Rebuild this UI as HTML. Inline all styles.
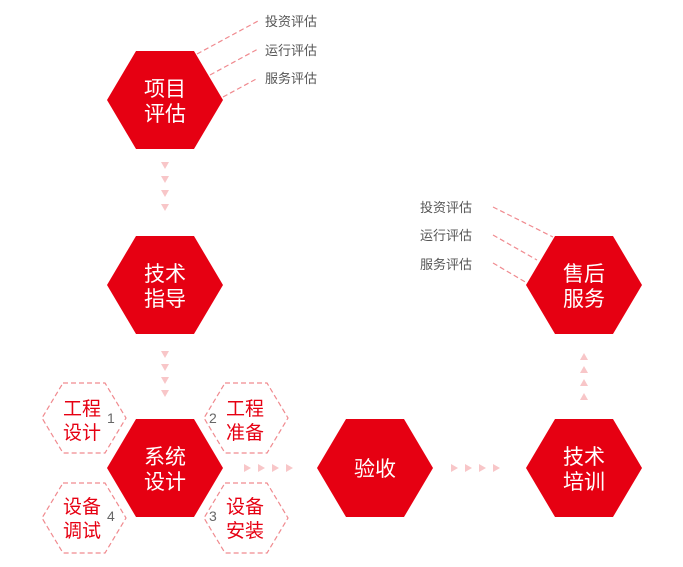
<!DOCTYPE html>
<html><head><meta charset="utf-8"><style>
html,body{margin:0;padding:0;background:#fff;}
svg{display:block}
text{font-family:"Liberation Sans","Noto Sans CJK SC",sans-serif;}
</style></head><body>
<svg width="683" height="567" viewBox="0 0 683 567" xmlns="http://www.w3.org/2000/svg">
<defs>
<polygon id="hx" points="-29,-49 29,-49 58,0 29,49 -29,49 -58,0"/>
<polygon id="sh" points="-21,-35 21,-35 42,0 21,35 -21,35 -42,0"/>
<polygon id="td" points="-4,-4 4,-4 0,3" fill="#f8c6c8"/>
<polygon id="tu" points="-4,4 4,4 0,-3" fill="#f8c6c8"/>
<polygon id="tr" points="-4,-4 -4,4 3,0" fill="#f8c6c8"/>
</defs>
<g fill="#e60012">
<use href="#hx" x="165" y="100"/>
<use href="#hx" x="165" y="285"/>
<use href="#hx" x="165" y="468"/>
<use href="#hx" x="375" y="468"/>
<use href="#hx" x="584" y="468"/>
<use href="#hx" x="584" y="285"/>
</g>
<g fill="none" stroke="#f08a8f" stroke-width="1.2" stroke-dasharray="5,3">
<use href="#sh" x="84" y="418"/>
<use href="#sh" x="246" y="418"/>
<use href="#sh" x="84" y="518"/>
<use href="#sh" x="246" y="518"/>
<line x1="197" y1="54" x2="258" y2="21"/>
<line x1="210" y1="75" x2="258" y2="49"/>
<line x1="223" y1="97" x2="258" y2="78"/>
<line x1="493" y1="207" x2="553" y2="237"/>
<line x1="493" y1="235" x2="537" y2="260"/>
<line x1="493" y1="263" x2="527" y2="283"/>
</g>
<g>
<use href="#td" x="165" y="166"/><use href="#td" x="165" y="180"/><use href="#td" x="165" y="194"/><use href="#td" x="165" y="208"/>
<use href="#td" x="165" y="355"/><use href="#td" x="165" y="368"/><use href="#td" x="165" y="381"/><use href="#td" x="165" y="394"/>
<use href="#tu" x="584" y="356"/><use href="#tu" x="584" y="369"/><use href="#tu" x="584" y="382"/><use href="#tu" x="584" y="396"/>
<use href="#tr" x="248" y="468"/><use href="#tr" x="262" y="468"/><use href="#tr" x="276" y="468"/><use href="#tr" x="290" y="468"/>
<use href="#tr" x="455" y="468"/><use href="#tr" x="469" y="468"/><use href="#tr" x="483" y="468"/><use href="#tr" x="497" y="468"/>
</g>
<g fill="#fff" font-size="21" text-anchor="middle">
<text x="165" y="96">项目</text><text x="165" y="121">评估</text>
<text x="165" y="281">技术</text><text x="165" y="306">指导</text>
<text x="165" y="464">系统</text><text x="165" y="489">设计</text>
<text x="375" y="476">验收</text>
<text x="584" y="464">技术</text><text x="584" y="489">培训</text>
<text x="584" y="281">售后</text><text x="584" y="306">服务</text>
</g>
<g fill="#e60012" font-size="19" text-anchor="middle">
<text x="82" y="415">工程</text><text x="82" y="439">设计</text>
<text x="245" y="415">工程</text><text x="245" y="439">准备</text>
<text x="82" y="513">设备</text><text x="82" y="537">调试</text>
<text x="245" y="513">设备</text><text x="245" y="537">安装</text>
</g>
<g fill="#666" font-size="14">
<text x="107" y="423">1</text><text x="209" y="423">2</text>
<text x="209" y="521">3</text><text x="107" y="521">4</text>
</g>
<g fill="#555" font-size="13">
<text x="265" y="26">投资评估</text><text x="265" y="55">运行评估</text><text x="265" y="83">服务评估</text>
<text x="420" y="212">投资评估</text><text x="420" y="240">运行评估</text><text x="420" y="269">服务评估</text>
</g>
</svg>
</body></html>
